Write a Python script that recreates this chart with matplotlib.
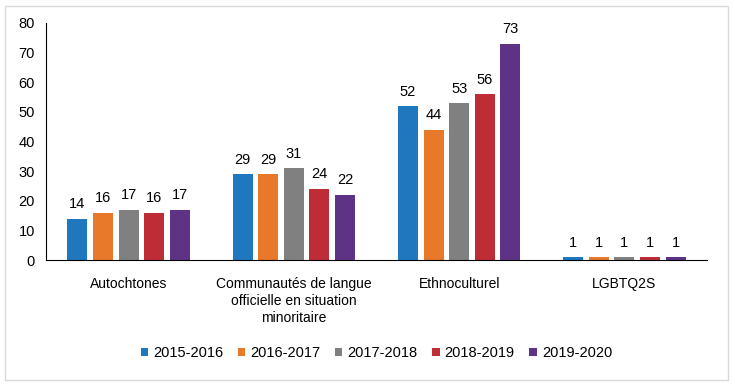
import numpy as np
import matplotlib
matplotlib.use('Agg')
import matplotlib.pyplot as plt
from matplotlib.patches import Rectangle

categories = ['Autochtones', 'Communautés de langue\nofficielle en situation\nminoritaire',
              'Ethnoculturel', 'LGBTQ2S']
years = ['2015-2016', '2016-2017', '2017-2018', '2018-2019', '2019-2020']
values = {
    '2015-2016': [14, 29, 52, 1],
    '2016-2017': [16, 29, 44, 1],
    '2017-2018': [17, 31, 53, 1],
    '2018-2019': [16, 24, 56, 1],
    '2019-2020': [17, 22, 73, 1],
}
colors = ['#1F78BE', '#E8782A', '#808080', '#BE2D36', '#5E3386']
yticks = [0, 10, 20, 30, 40, 50, 60, 70, 80]

plt.rcParams['font.family'] = ['Liberation Sans', 'DejaVu Sans']

fig = plt.figure(figsize=(7.35, 3.85), dpi=100)
ax = fig.add_axes([46/735, 1 - 260/385, (707-46)/735, (260-23)/385])

x = np.arange(len(categories))
w = 0.121
step = 0.155
for i, yr in enumerate(years):
    pos = x + (i - 2) * step
    bars = ax.bar(pos, values[yr], width=w, color=colors[i], label=yr)
    for b, v in zip(bars, values[yr]):
        ax.text(b.get_x() + b.get_width()/2, v + 2.5, str(v), ha='center', va='bottom', fontsize=10.5)

ax.set_xlim(-0.5, 3.5)
ax.set_ylim(0, 80)
ax.set_yticks(yticks)
ax.set_xticks(x)
ax.set_xticklabels(categories, fontsize=10, linespacing=1.3)
ax.tick_params(axis='y', length=0, labelsize=10.5, pad=8)
ax.tick_params(axis='x', length=0, pad=12)
for s in ['top', 'right']:
    ax.spines[s].set_visible(False)
ax.spines['left'].set_color('black')
ax.spines['bottom'].set_color('black')

ax.legend(loc='center', bbox_to_anchor=(0.5, 1 - (353-23)/237), ncol=5, frameon=False,
          fontsize=10.5, handlelength=0.5, handleheight=0.5, handletextpad=0.35, columnspacing=1.0)

fig.patches.append(Rectangle((5/735, 5/385), 723/735, 374/385, transform=fig.transFigure,
                             fill=False, edgecolor='#D9D9D9', linewidth=1))

fig.savefig('out.png', dpi=100)
